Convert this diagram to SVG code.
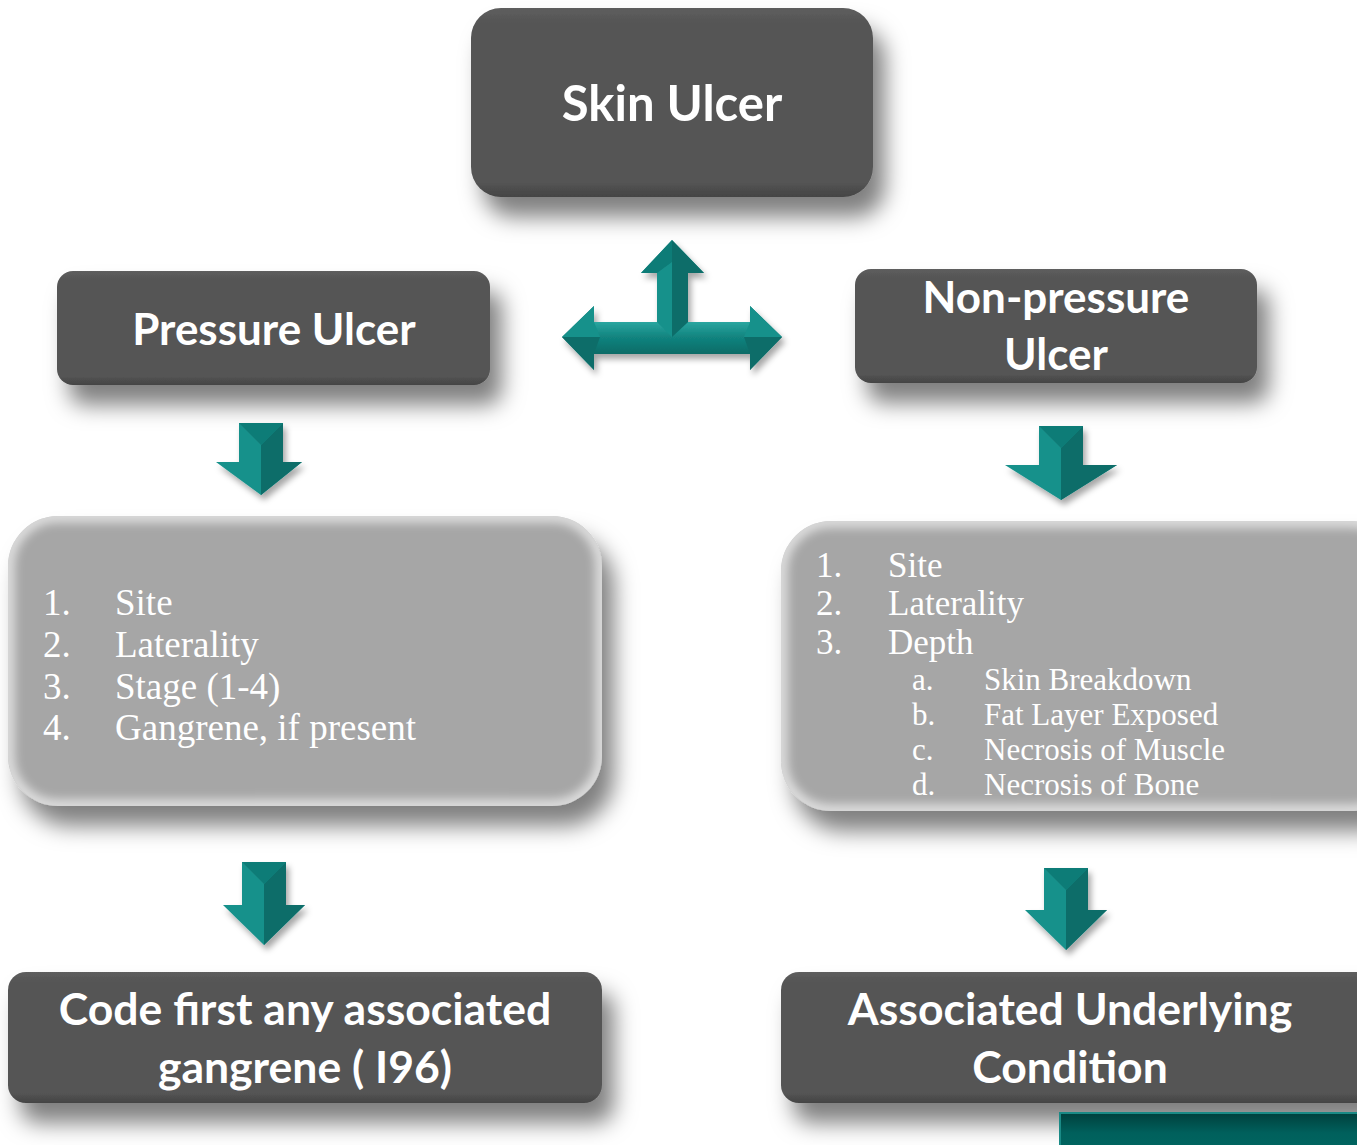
<svg xmlns="http://www.w3.org/2000/svg" width="1357" height="1145" viewBox="0 0 1357 1145">
  <defs>
    <filter id="shadow" x="-10%" y="-20%" width="130%" height="160%">
      <feDropShadow dx="12" dy="20" stdDeviation="11" flood-color="#000" flood-opacity="0.5"/>
    </filter>
    <filter id="ashadow" x="-20%" y="-20%" width="150%" height="150%">
      <feDropShadow dx="3" dy="5" stdDeviation="3" flood-color="#000" flood-opacity="0.35"/>
    </filter>
    <filter id="soft" x="-5%" y="-5%" width="110%" height="110%">
      <feGaussianBlur stdDeviation="6"/>
    </filter>
    <linearGradient id="darkFill" x1="0" y1="0" x2="0" y2="1">
      <stop offset="0" stop-color="#5e5e5e"/>
      <stop offset="0.08" stop-color="#555"/>
      <stop offset="0.92" stop-color="#555"/>
      <stop offset="1" stop-color="#444"/>
    </linearGradient>
    <linearGradient id="tealBar" x1="0" y1="0" x2="0" y2="1">
      <stop offset="0" stop-color="#2aa6a0"/>
      <stop offset="0.45" stop-color="#128580"/>
      <stop offset="1" stop-color="#0b6b67"/>
    </linearGradient>
    <linearGradient id="bottomBar" x1="0" y1="0" x2="0" y2="1">
      <stop offset="0" stop-color="#00403d"/>
      <stop offset="0.5" stop-color="#00605c"/>
      <stop offset="1" stop-color="#006661"/>
    </linearGradient>
    <style>
      .dark { fill: url(#darkFill); }
      .light { fill: #a6a6a6; }
      .rim { fill: none; stroke: #ffffff; stroke-width: 10; opacity: 0.85; }
      .title { font-family: "Lato", "Open Sans", "Liberation Sans", sans-serif; font-weight: bold; fill: #ffffff; text-anchor: middle; }
      .list { font-family: "Liberation Serif", "DejaVu Serif", serif; fill: #ffffff; }
      .tl { fill: #16918b; }
      .td { fill: #0c6d69; }
      .tm { fill: #0f7b77; }
    </style>
    <clipPath id="clipL"><rect x="8" y="516" width="594" height="290" rx="50"/></clipPath>
    <clipPath id="clipR"><rect x="781" y="521" width="620" height="290" rx="50"/></clipPath>
  </defs>

  <rect width="1357" height="1145" fill="#ffffff"/>

  <!-- Skin Ulcer -->
  <g id="skin-ulcer">
    <rect class="dark" x="471" y="8" width="402" height="189" rx="30" filter="url(#shadow)"/>
    <text class="title" x="672" y="121" font-size="49">Skin Ulcer</text>
  </g>

  <!-- Pressure Ulcer -->
  <g id="pressure-ulcer">
    <rect class="dark" x="57" y="271" width="433" height="114" rx="16" filter="url(#shadow)"/>
    <text class="title" x="274" y="345" font-size="44">Pressure Ulcer</text>
  </g>

  <!-- Non-pressure Ulcer -->
  <g id="non-pressure-ulcer">
    <rect class="dark" x="855" y="269" width="402" height="114" rx="16" filter="url(#shadow)"/>
    <text class="title" x="1056" y="313" font-size="44">Non-pressure</text>
    <text class="title" x="1056" y="370" font-size="44">Ulcer</text>
  </g>

  <!-- Pressure ulcer details -->
  <g id="pressure-details">
    <rect class="light" x="8" y="516" width="594" height="290" rx="50" filter="url(#shadow)"/>
    <g clip-path="url(#clipL)">
      <rect class="rim" x="8" y="516" width="594" height="290" rx="50" filter="url(#soft)"/>
    </g>
    <g class="list" font-size="37">
      <text x="43" y="615">1.</text><text x="115" y="615">Site</text>
      <text x="43" y="657">2.</text><text x="115" y="657">Laterality</text>
      <text x="43" y="699">3.</text><text x="115" y="699">Stage (1-4)</text>
      <text x="43" y="740">4.</text><text x="115" y="740">Gangrene, if present</text>
    </g>
  </g>

  <!-- Non-pressure ulcer details -->
  <g id="non-pressure-details">
    <rect class="light" x="781" y="521" width="620" height="290" rx="50" filter="url(#shadow)"/>
    <g clip-path="url(#clipR)">
      <rect class="rim" x="781" y="521" width="620" height="290" rx="50" filter="url(#soft)"/>
    </g>
    <g class="list" font-size="35">
      <text x="816" y="577">1.</text><text x="888" y="577">Site</text>
      <text x="816" y="615">2.</text><text x="888" y="615">Laterality</text>
      <text x="816" y="654">3.</text><text x="888" y="654">Depth</text>
    </g>
    <g class="list" font-size="31">
      <text x="912" y="690">a.</text><text x="984" y="690">Skin Breakdown</text>
      <text x="912" y="725">b.</text><text x="984" y="725">Fat Layer Exposed</text>
      <text x="912" y="760">c.</text><text x="984" y="760">Necrosis of Muscle</text>
      <text x="912" y="795">d.</text><text x="984" y="795">Necrosis of Bone</text>
    </g>
  </g>

  <!-- Code first gangrene -->
  <g id="code-first">
    <rect class="dark" x="8" y="972" width="594" height="131" rx="18" filter="url(#shadow)"/>
    <text class="title" x="305" y="1025" font-size="44.5">Code first any associated</text>
    <text class="title" x="305" y="1083" font-size="44.5">gangrene ( I96)</text>
  </g>

  <!-- Associated underlying condition -->
  <g id="underlying-condition">
    <rect class="dark" x="781" y="972" width="600" height="131" rx="18" filter="url(#shadow)"/>
    <text class="title" x="1070" y="1025" font-size="44.5">Associated Underlying</text>
    <text class="title" x="1070" y="1083" font-size="44.5">Condition</text>
  </g>

  <!-- Footer bar -->
  <g id="footer-bar">
    <rect x="1060" y="1113" width="300" height="40" fill="url(#bottomBar)" stroke="#1a8a86" stroke-width="2"/>
  </g>

  <!-- Connectors -->
  <g id="connectors">
    <!-- Three-way arrow under Skin Ulcer -->
    <g filter="url(#ashadow)">
      <polygon class="tm" points="562,337 594,306 594,322 750,322 750,306 782,337 750,370 750,354 594,354 594,370"/>
      <polygon fill="url(#tealBar)" points="594,322 750,322 750,354 594,354"/>
      <polygon class="tl" points="562,337 594,306 594,322 600,337"/>
      <polygon class="td" points="562,337 594,370 594,354 600,337"/>
      <polygon class="tl" points="782,337 750,306 750,322 744,337"/>
      <polygon class="td" points="782,337 750,370 750,354 744,337"/>
      <polygon class="tl" points="672,240 704,273 688,273 688,322 672,337 657,322 657,273 641,273"/>
      <polygon class="td" points="672,240 704,273 688,273 688,322 672,337 672,262"/>
      <polygon class="tm" points="672,262 657,273 641,273 672,240"/>
    </g>

    <!-- Down arrow: Pressure Ulcer -> details -->
    <g filter="url(#ashadow)">
      <polygon class="tl" points="239,423 283,423 283,462 302,462 261,495 216,462 239,462"/>
      <polygon class="td" points="261,445 283,423 283,462 302,462 261,495"/>
      <polygon class="tm" points="239,423 283,423 261,445"/>
    </g>

    <!-- Down arrow: Non-pressure Ulcer -> details -->
    <g filter="url(#ashadow)">
      <polygon class="tl" points="1039,426 1083,426 1083,465 1117,465 1061,500 1005,465 1039,465"/>
      <polygon class="td" points="1061,448 1083,426 1083,465 1117,465 1061,500"/>
      <polygon class="tm" points="1039,426 1083,426 1061,448"/>
    </g>

    <!-- Down arrow: pressure details -> code first -->
    <g filter="url(#ashadow)">
      <polygon class="tl" points="242,862 286,862 286,905 305,905 264,945 223,905 242,905"/>
      <polygon class="td" points="264,884 286,862 286,905 305,905 264,945"/>
      <polygon class="tm" points="242,862 286,862 264,884"/>
    </g>

    <!-- Down arrow: non-pressure details -> underlying condition -->
    <g filter="url(#ashadow)">
      <polygon class="tl" points="1044,868 1088,868 1088,910 1107,910 1066,950 1025,910 1044,910"/>
      <polygon class="td" points="1066,890 1088,868 1088,910 1107,910 1066,950"/>
      <polygon class="tm" points="1044,868 1088,868 1066,890"/>
    </g>
  </g>
</svg>
